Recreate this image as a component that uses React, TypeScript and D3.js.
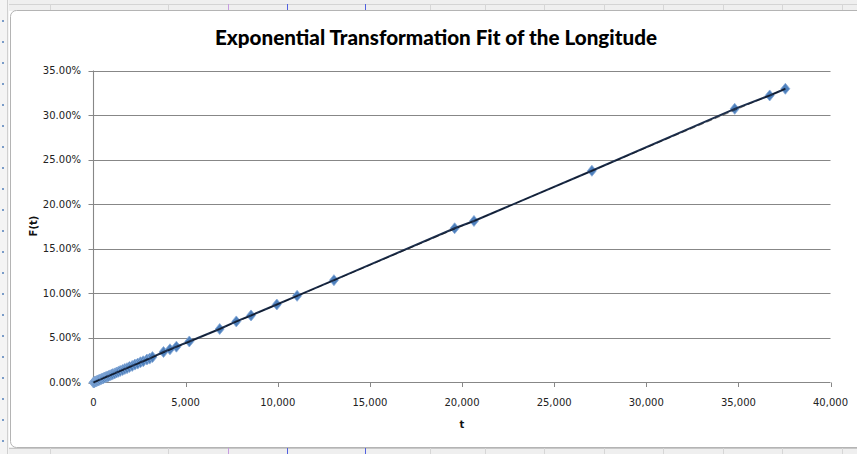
import React from "react";
import * as d3 from "d3";

const tValues = [0, 30, 60, 100, 150, 200, 250, 300, 350, 420, 480, 540, 600, 680, 750, 820, 900, 980, 1050, 1150, 1250, 1350, 1450, 1580, 1700, 1820, 1950, 2100, 2250, 2400, 2550, 2700, 2900, 3050, 3200, 3800, 4150, 4500, 5200, 6850, 7750, 8550, 9950, 11050, 13050, 19600, 20650, 27050, 34800, 36700, 37550];
const fValues = [0.0, 0.0003, 0.0006, 0.001, 0.0014, 0.0019, 0.0023, 0.0028, 0.0032, 0.0038, 0.0044, 0.0049, 0.0055, 0.0062, 0.0068, 0.0073, 0.008, 0.0088, 0.0094, 0.0102, 0.0112, 0.012, 0.013, 0.014, 0.0152, 0.0161, 0.0174, 0.0186, 0.0201, 0.0212, 0.0227, 0.0238, 0.0258, 0.0268, 0.0285, 0.0342, 0.0372, 0.0402, 0.046, 0.06, 0.0685, 0.0752, 0.0875, 0.0972, 0.1148, 0.173, 0.1812, 0.2375, 0.307, 0.322, 0.3295];
const xTicks = [0, 5000, 10000, 15000, 20000, 25000, 30000, 35000, 40000];
const yTicks = [0, 0.05, 0.1, 0.15, 0.2, 0.25, 0.3, 0.35];
const title = "Exponential Transformation Fit of the Longitude";
const xTitle = "t";
const yTitle = "F(t)";

const sheetCols = [50, 168, 228, 287, 365, 430, 485, 544, 604, 663, 723, 782, 842];

export default function App() {
  const W = 857, H = 454;
  const x = d3.scaleLinear().domain([0, 40000]).range([93.5, 830.5]);
  const y = d3.scaleLinear().domain([0, 0.35]).range([382.5, 70.5]);
  const fmtX = d3.format(",");
  const fmtY = d3.format(".2%");
  const data = tValues.map((t, i) => ({ t, f: fValues[i] }));
  const line = d3.line<{ t: number; f: number }>().x(d => x(d.t)).y(d => y(d.f));
  const diamond = "M0,-5.5L4.5,0L0,5.5L-4.5,0Z";
  const font = "'DejaVu Sans', sans-serif";
  return (
    <svg width={W} height={H} style={{ position: "absolute", left: 0, top: 0, display: "block", background: "#fff" }}>
      {/* spreadsheet surroundings */}
      <rect x={0} y={0} width={W} height={11} fill="#efefef" />
      <line x1={0} x2={W} y1={4.5} y2={4.5} stroke="#d4d4d4" />
      <rect x={0} y={447} width={W} height={7} fill="#efefef" />
      <line x1={0} x2={W} y1={448.5} y2={448.5} stroke="#c8c8c8" />
      <rect x={0} y={0} width={9} height={H} fill="#f4f4f4" />
      <line x1={7.5} x2={7.5} y1={0} y2={H} stroke="#d0d0d0" />
      {sheetCols.map((c, i) => (
        <g key={"c" + i}>
          <line x1={c + 0.5} x2={c + 0.5} y1={4} y2={11} stroke={i === 2 ? "#c79be0" : i === 3 || i === 4 ? "#5060e0" : "#d6d6d6"} />
          <line x1={c + 0.5} x2={c + 0.5} y1={448} y2={H} stroke={i === 2 ? "#c79be0" : i === 3 || i === 4 ? "#5060e0" : "#d6d6d6"} />
        </g>
      ))}
      {d3.range(20, 450, 21).map((v, i) => (
        <rect key={"d" + i} x={2} y={v} width={2} height={2} fill="#7a9cc8" />
      ))}
      {/* chart area */}
      <rect x={10.5} y={10.5} width={860} height={437} rx={6} fill="#fff" stroke="#b4b4b4" />
      <text x={436} y={45} textAnchor="middle" fontFamily="Lato, sans-serif" fontWeight="900" fontSize={21} textLength={442} lengthAdjust="spacingAndGlyphs" fill="#000">{title}</text>
      {/* gridlines */}
      {yTicks.filter(v => v > 0).map(v => (
        <line key={"g" + v} x1={x(0)} x2={x(40000)} y1={Math.round(y(v)) + 0.5} y2={Math.round(y(v)) + 0.5} stroke="#878787" strokeWidth={1.1} />
      ))}
      {/* axes */}
      <line x1={x(0)} x2={x(0)} y1={y(0.35)} y2={y(0)} stroke="#878787" strokeWidth={1.1} />
      <line x1={x(0)} x2={x(40000)} y1={y(0)} y2={y(0)} stroke="#878787" strokeWidth={1.1} />
      {yTicks.map(v => (
        <g key={"y" + v}>
          <line x1={x(0) - 5} x2={x(0)} y1={Math.round(y(v)) + 0.5} y2={Math.round(y(v)) + 0.5} stroke="#878787" />
          <text x={81} y={y(v) + 3.5} textAnchor="end" fontFamily={font} fontSize={10} fill="#222">{fmtY(v)}</text>
        </g>
      ))}
      {xTicks.map(v => (
        <g key={"x" + v}>
          <line x1={Math.round(x(v)) + 0.5} x2={Math.round(x(v)) + 0.5} y1={y(0)} y2={y(0) + 4.5} stroke="#878787" />
          <text x={x(v)} y={406} textAnchor="middle" fontFamily={font} fontSize={10} fill="#222">{fmtX(v)}</text>
        </g>
      ))}
      <text x={462} y={428} textAnchor="middle" fontFamily={font} fontWeight="bold" fontSize={10} fill="#111">{xTitle}</text>
      <text transform={`translate(37,226) rotate(-90)`} textAnchor="middle" fontFamily={font} fontWeight="bold" fontSize={10} fill="#111">{yTitle}</text>
      {/* markers */}
      {data.map((d, i) => (
        <path key={"m" + i} d={diamond} transform={`translate(${x(d.t)},${y(d.f)})`} fill="#4f81bd" stroke="#86a9d8" strokeWidth={0.8} />
      ))}
      {/* series / trend line */}
      <path d={line(data) || ""} fill="none" stroke="#1d2f4d" strokeWidth={2} />
      <path d={line([data[0], data[data.length - 1]]) || ""} fill="none" stroke="#000" strokeWidth={0.8} strokeDasharray="6,3" opacity={0.6} />
    </svg>
  );
}
